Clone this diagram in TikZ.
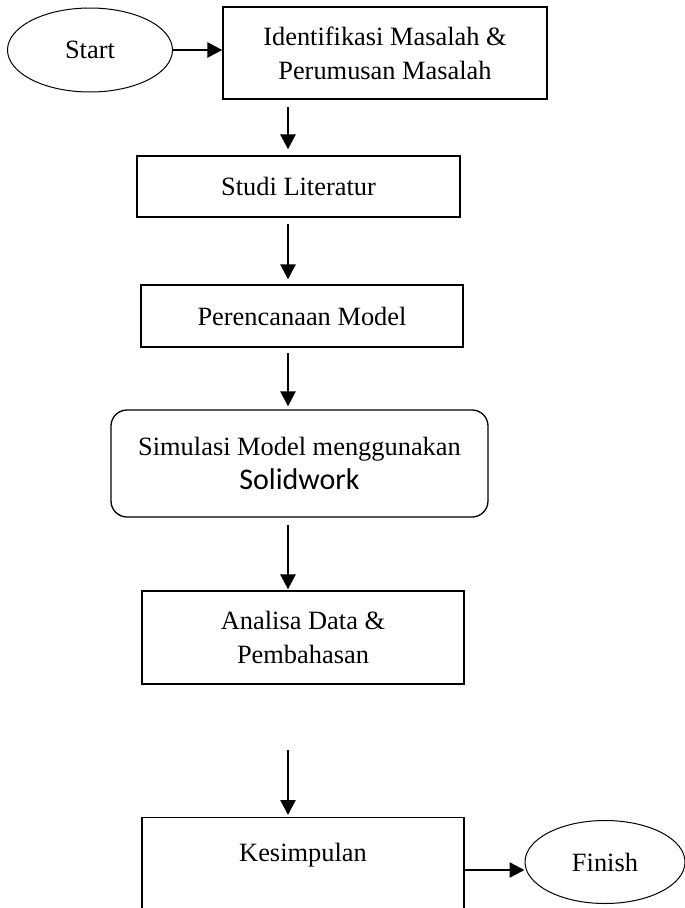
\documentclass[tikz,border=0pt]{standalone}
\usepackage{fontspec}
\setmainfont{Liberation Serif}
\newfontfamily\calibrifont{Carlito}
\usetikzlibrary{arrows.meta,shapes.geometric}

\tikzset{
  txt/.style={font=\fontsize{26.4}{34}\selectfont, align=center, inner sep=0pt},
  box/.style={txt, draw, line width=1.3pt, rectangle},
  term/.style={txt, draw, line width=1pt, ellipse},
  flow/.style={line width=2.6pt, -{Triangle[length=15pt,width=15pt]}}
}

\begin{document}
\begin{tikzpicture}[x=1pt,y=-1pt]
        \useasboundingbox (0,0) rectangle (685,908);
        % column of the down arrows
        \coordinate (axis) at (288,0);

        \node[term, minimum width=165, minimum height=84] (start) at (90,50) {Start};
        \node[box, minimum width=324, minimum height=92] (ident) at (385,53)
          {Identifikasi Masalah \&\\Perumusan Masalah};
        \node[box, minimum width=323, minimum height=61] (studi) at (298.5,186.5) {Studi Literatur};
        \node[box, minimum width=322, minimum height=62] (rencana) at (302,316) {Perencanaan Model};
        \node[box, rounded corners=16pt, minimum width=377, minimum height=107] (simulasi) at (299.5,463.5)
          {Simulasi Model menggunakan\\{\calibrifont\fontsize{30}{34}\selectfont Solidwork}};
        \node[box, minimum width=322, minimum height=93] (analisa) at (303,637.5)
          {Analisa Data \&\\Pembahasan};
        % bottom of this box runs off the page
        \node[box, anchor=north, minimum width=322, minimum height=140,
              text height=18.5pt, text depth=70.5pt] (kesimpulan) at (303,817) {Kesimpulan};
        \node[term, minimum width=160, minimum height=83] (finish) at (605,862) {Finish};

        \coordinate (gap) at (288,750);

        \draw[flow] (start.east) -- (start.east -| ident.west);
        \draw[flow, shorten <=7pt, shorten >=6pt] (ident.south -| axis) -- (studi.north -| axis);
        \draw[flow, shorten <=6pt, shorten >=5pt] (studi.south -| axis) -- (rencana.north -| axis);
        \draw[flow, shorten <=5pt, shorten >=3pt] (rencana.south -| axis) -- (simulasi.north -| axis);
        \draw[flow, shorten <=7pt, shorten >=1pt] (simulasi.south -| axis) -- (analisa.north -| axis);
        \draw[flow, shorten >=2pt] (gap) -- (kesimpulan.north -| axis);
        \draw[flow] ([yshift=-8pt]finish.west -| kesimpulan.east) -- ([yshift=-8pt]finish.west);
      \end{tikzpicture}
\end{document}
